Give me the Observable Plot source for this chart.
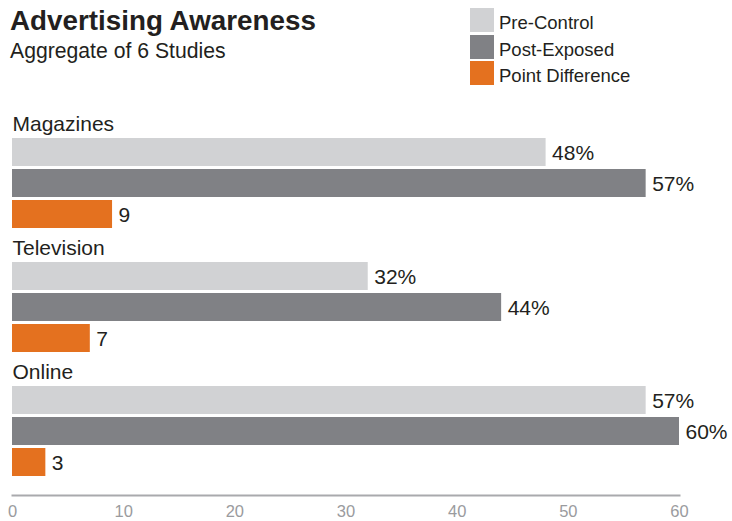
<!DOCTYPE html>
<html>
<head>
<meta charset="utf-8">
<script src="https://cdn.jsdelivr.net/npm/d3@7"></script>
<script src="https://cdn.jsdelivr.net/npm/@observablehq/plot@0.6"></script>
<style>
  html, body { margin: 0; padding: 0; background: #fff; overflow: hidden; }
  body { font-family: "Liberation Sans", Arial, Helvetica, sans-serif; color: #231f20; }
  #wrap { position: relative; width: 732px; height: 521px; }
  #header { position: relative; width: 732px; height: 100px; }
  .title { position: absolute; left: 10px; top: 6.5px; font-size: 27.8px; line-height: 27.8px; font-weight: bold; color: #231f20; }
  .subtitle { position: absolute; left: 10px; top: 39.5px; font-size: 21.2px; line-height: 21.2px; color: #231f20; }
  .lg { position: absolute; left: 470px; height: 24px; display: flex; align-items: flex-start; }
  .lg .sw { width: 24px; height: 24px; flex: none; }
  .lg .tx { margin-left: 5px; font-size: 18.5px; line-height: 18.5px; margin-top: 6px; color: #231f20; white-space: nowrap; }
</style>
</head>
<body>
<div id="wrap">
  <div id="header">
    <div class="title">Advertising Awareness</div>
    <div class="subtitle">Aggregate of 6 Studies</div>
  </div>
  <div id="chart"></div>
</div>
<script>
const categories = ["Magazines", "Television", "Online"];
const series = ["Pre-Control", "Post-Exposed", "Point Difference"];
const preControl = [48, 32, 57];
const postExposed = [57, 44, 60];
const pointDifference = [9, 7, 3];
const xTicks = [0, 10, 20, 30, 40, 50, 60];
const seriesColors = ["#d1d2d4", "#808185", "#e4711f"];

const seriesValues = [preControl, postExposed, pointDifference];

// Build table
const rows = [];
categories.forEach((c, ci) => {
  series.forEach((s, si) => {
    rows.push({category: c, series: s, key: c + "|" + s, value: seriesValues[si][ci]});
  });
});
const yDomain = [];
categories.forEach(c => {
  yDomain.push(c + "|label");
  series.forEach(s => yDomain.push(c + "|" + s));
});

// Legend (HTML)
const header = document.getElementById("header");
series.forEach((s, i) => {
  const row = document.createElement("div");
  row.className = "lg";
  row.style.top = (8 + i * 26.5) + "px";
  const sw = document.createElement("div");
  sw.className = "sw";
  sw.style.background = seriesColors[i];
  const tx = document.createElement("div");
  tx.className = "tx";
  tx.textContent = s;
  row.appendChild(sw);
  row.appendChild(tx);
  header.appendChild(row);
});

const chart = Plot.plot({
  width: 732,
  height: 421,
  marginLeft: 12,
  marginRight: 53,
  marginTop: 0,
  marginBottom: 26,
  style: {fontFamily: '"Liberation Sans", Arial, Helvetica, sans-serif', background: "#fff"},
  x: {domain: [0, 60], label: null},
  y: {domain: yDomain, range: [5.35, 377.35], paddingInner: 0.097, paddingOuter: 0.0485, align: 0.5, axis: null},
  color: {domain: series, range: seriesColors},
  marks: [
    Plot.barX(rows, {x: "value", y: "key", fill: "series"}),
    Plot.text(rows, {
      x: "value", y: "key",
      text: d => d.series === "Point Difference" ? String(d.value) : d.value + "%",
      textAnchor: "start", dx: 6, dy: 1, fontSize: 21, fill: "#231f20"
    }),
    Plot.text(categories, {
      y: d => d + "|label", text: d => d, frameAnchor: "left",
      textAnchor: "start", dy: 3, fontSize: 21, fill: "#231f20"
    }),
    Plot.frame({anchor: "bottom", stroke: "#a9aaad", strokeWidth: 2}),
    Plot.axisX(xTicks, {tickSize: 0, tickPadding: 10, fontSize: 16.5, fill: "#9a9b9e", label: null})
  ]
});
document.getElementById("chart").appendChild(chart);
</script>
</body>
</html>
